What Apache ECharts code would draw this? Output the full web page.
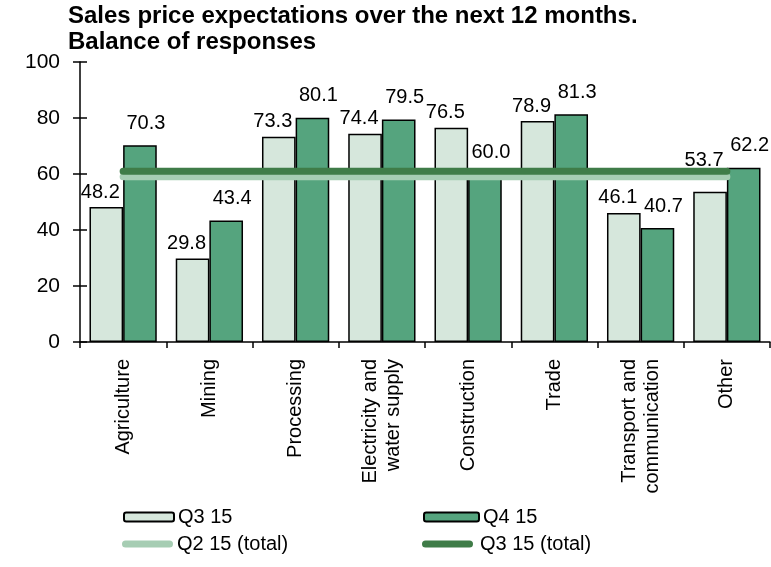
<!DOCTYPE html>
<html>
<head>
<meta charset="utf-8">
<script src="https://cdn.jsdelivr.net/npm/echarts@6/dist/echarts.min.js"></script>
<style>
html, body { margin: 0; padding: 0; background: #fff; }
#chart { width: 771px; height: 567px; }
</style>
</head>
<body>
<div id="chart"></div>
<script>
const categories = ['Agriculture', 'Mining', 'Processing', 'Electricity and\nwater supply',
    'Construction', 'Trade', 'Transport and\ncommunication', 'Other'];
const q3_15 = [48.2, 29.8, 73.3, 74.4, 76.5, 78.9, 46.1, 53.7];
const q4_15 = [70.3, 43.4, 80.1, 79.5, 60.0, 81.3, 40.7, 62.2];
const q2_15_total = 59.0;
const q3_15_total = 61.0;
const yMin = 0, yMax = 100, yStep = 20;

const font = 'Liberation Sans, Arial, sans-serif';
const lightBar = '#d6e7dc';
const darkBar = '#55a47e';
const lightLine = '#a6cdb3';
const darkLine = '#3f7c48';
const capsule = 'path://M3.5,0H47.5A3.5,3.5,0,0,1,47.5,7H3.5A3.5,3.5,0,0,1,3.5,0Z';

let chartDom = document.getElementById('chart');
let myChart = echarts.init(chartDom, null, { renderer: 'canvas' });

function legendFor(name, left, top, w, h, icon) {
    let item = icon ? { name: name, icon: icon } : name;
    let lg = {
        left: left,
        top: top,
        padding: 0,
        itemGap: 0,
        itemWidth: w,
        itemHeight: h,
        selectedMode: false,
        data: [item],
        textStyle: { fontFamily: font, fontSize: 20, color: '#000', padding: [0, 0, 0, -1] }
    };
    if (icon) lg.itemStyle = { borderWidth: 0 };
    return lg;
}

let option = {
    animation: false,
    backgroundColor: '#fff',
    title: {
        text: 'Sales price expectations over the next 12 months.\nBalance of responses',
        left: 68,
        top: 3,
        padding: 0,
        textStyle: {
            fontFamily: font,
            fontSize: 24,
            fontWeight: 'bold',
            color: '#000',
            lineHeight: 26
        }
    },
    legend: [
        legendFor('Q3 15', 123, 507, 50, 9),
        legendFor('Q4 15', 423, 507, 55, 9),
        legendFor('Q2 15 (total)', 122, 534, 51, 7, capsule),
        legendFor('Q3 15 (total)', 422, 534, 57, 7, capsule)
    ],
    grid: {
        left: 80,
        right: 1,
        top: 62,
        bottom: 225
    },
    xAxis: {
        type: 'category',
        data: categories,
        axisLine: { lineStyle: { color: '#000', width: 1.5 } },
        axisTick: { show: true, length: 6, lineStyle: { color: '#000', width: 1.5 } },
        axisLabel: {
            rotate: 90,
            margin: 17,
            interval: 0,
            fontFamily: font,
            fontSize: 20,
            lineHeight: 23,
            color: '#000'
        }
    },
    yAxis: [
        {
            type: 'value',
            min: yMin,
            max: yMax,
            interval: yStep,
            axisLine: { show: true, lineStyle: { color: '#000', width: 1.5 } },
            axisTick: { show: true, length: 7, lineStyle: { color: '#000', width: 1.5 } },
            splitLine: { show: false },
            axisLabel: { margin: 20, fontFamily: font, fontSize: 21, color: '#000' }
        },
        {
            // inner half of the crossing ticks
            type: 'value',
            position: 'left',
            min: yMin,
            max: yMax,
            interval: yStep,
            axisLine: { show: false },
            axisTick: { show: true, inside: true, length: 7, lineStyle: { color: '#000', width: 1.5 } },
            splitLine: { show: false },
            axisLabel: { show: false }
        }
    ],
    series: [
        {
            name: 'Q3 15',
            type: 'bar',
            data: q3_15,
            barGap: '0%',
            barCategoryGap: '22%',
            itemStyle: { color: lightBar, borderColor: '#000', borderWidth: 1.5 },
            label: {
                show: true,
                position: 'top',
                distance: 5,
                offset: [-6, 0],
                fontFamily: font,
                fontSize: 20,
                color: '#000',
                formatter: p => p.value.toFixed(1)
            }
        },
        {
            name: 'Q4 15',
            type: 'bar',
            data: q4_15,
            itemStyle: { color: darkBar, borderColor: '#000', borderWidth: 1.5 },
            label: {
                show: true,
                position: 'top',
                distance: 12,
                offset: [6, 0],
                fontFamily: font,
                fontSize: 20,
                color: '#000',
                formatter: p => p.value.toFixed(1)
            }
        },
        {
            name: 'Q2 15 (total)',
            type: 'line',
            data: categories.map(() => q2_15_total),
            symbol: 'none',
            z: 3,
            itemStyle: { color: lightLine, borderWidth: 0 },
            lineStyle: { color: lightLine, width: 7, cap: 'round' }
        },
        {
            name: 'Q3 15 (total)',
            type: 'line',
            data: categories.map(() => q3_15_total),
            symbol: 'none',
            z: 4,
            itemStyle: { color: darkLine, borderWidth: 0 },
            lineStyle: { color: darkLine, width: 7, cap: 'round' }
        }
    ]
};

option && myChart.setOption(option);

// lift any Q3 label that would sit under the total lines to just above them
let lineY = myChart.convertToPixel({ yAxisIndex: 0 }, q3_15_total);
let lifted = q3_15.map(function (v) {
    let barTop = myChart.convertToPixel({ yAxisIndex: 0 }, v);
    let labelMid = barTop - 15;
    if (labelMid + 10 > lineY - 6 && labelMid - 10 < lineY + 10) {
        return { value: v, label: { offset: [-6, (lineY - 11) - labelMid] } };
    }
    return v;
});
myChart.setOption({ series: [{ name: 'Q3 15', data: lifted }] });
</script>
</body>
</html>
